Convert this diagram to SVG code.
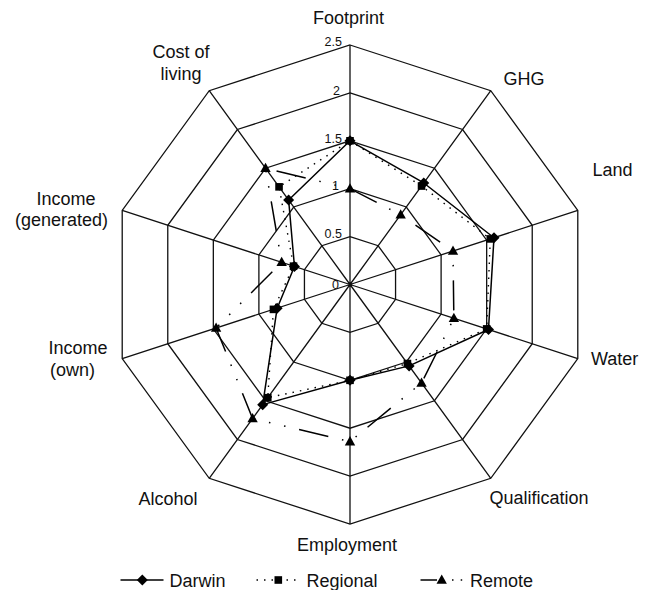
<svg xmlns="http://www.w3.org/2000/svg" xmlns:xlink="http://www.w3.org/1999/xlink" width="654" height="590" viewBox="0 0 654 590">
<style>
.grid{fill:none;stroke:#111;stroke-width:1.3}
.lbl{font-family:"Liberation Sans",Arial,sans-serif;font-size:18px;fill:#111}
.tick{font-family:"Liberation Sans",Arial,sans-serif;font-size:12.5px;fill:#111;text-anchor:end}
.darwin{fill:none;stroke:#000;stroke-width:1.5;stroke-linejoin:round}
.regional{fill:none;stroke:#000;stroke-width:1.4;stroke-dasharray:1.5 6}
.remote{fill:none;stroke:#000;stroke-width:1.5;stroke-dasharray:30 14 1.5 14 1.5 14}
</style>
<defs>
<path id="dia" d="M0,-5.5 L5.5,0 L0,5.5 L-5.5,0Z" fill="#000"/>
<rect id="sq" x="-3.8" y="-3.8" width="7.6" height="7.6" fill="#000"/>
<path id="tri" d="M0,-5.5 L5.2,3.8 L-5.2,3.8Z" fill="#000"/>
</defs>
<rect width="654" height="590" fill="#fff"/>
<g id="grid">
<polygon class="grid" points="350,236.6 378.16,245.75 395.56,269.7 395.56,299.3 378.16,323.25 350,332.4 321.84,323.25 304.44,299.3 304.44,269.7 321.84,245.75"/>
<polygon class="grid" points="350,188.7 406.31,207 441.11,254.9 441.11,314.1 406.31,362 350,380.3 293.69,362 258.89,314.1 258.89,254.9 293.69,207"/>
<polygon class="grid" points="350,140.8 434.47,168.25 486.67,240.1 486.67,328.9 434.47,400.75 350,428.2 265.53,400.75 213.33,328.9 213.33,240.1 265.53,168.25"/>
<polygon class="grid" points="350,92.9 462.62,129.5 532.23,225.3 532.23,343.7 462.62,439.5 350,476.1 237.38,439.5 167.77,343.7 167.77,225.3 237.38,129.5"/>
<polygon class="grid" points="350,45 490.78,90.74 577.79,210.49 577.79,358.51 490.78,478.26 350,524 209.22,478.26 122.21,358.51 122.21,210.49 209.22,90.74"/>
<path class="grid" d="M350,284.5L350,45M350,284.5L490.78,90.74M350,284.5L577.79,210.49M350,284.5L577.79,358.51M350,284.5L490.78,478.26M350,284.5L350,524M350,284.5L209.22,478.26M350,284.5L122.21,358.51M350,284.5L122.21,210.49M350,284.5L209.22,90.74"/>
</g>
<g id="ticks">
<text class="tick" x="342" y="45.5">2.5</text>
<text class="tick" x="340" y="95">2</text>
<text class="tick" x="342" y="142.5">1.5</text>
<text class="tick" x="339" y="190">1</text>
<text class="tick" x="342" y="238">0.5</text>
<text class="tick" x="339" y="288.5">0</text>
</g>
<g id="axis-labels">
<text class="lbl" x="313" y="24">Footprint</text>
<text class="lbl" x="503.5" y="85">GHG</text>
<text class="lbl" x="592.5" y="176">Land</text>
<text class="lbl" x="591" y="365">Water</text>
<text class="lbl" x="489.5" y="503.5">Qualification</text>
<text class="lbl" x="297" y="550.5">Employment</text>
<text class="lbl" x="138.5" y="505">Alcohol</text>
<text class="lbl" x="48.5" y="353.5">Income</text>
<text class="lbl" x="50" y="375.5">(own)</text>
<text class="lbl" x="36.5" y="205">Income</text>
<text class="lbl" x="15" y="226">(generated)</text>
<text class="lbl" x="181" y="58" text-anchor="middle">Cost of</text>
<text class="lbl" x="181" y="80" text-anchor="middle">living</text>
</g>
<g id="connectors">
<polygon id="remote-line" class="remote" points="350,188.7 400.67,214.76 453,251.04 453.86,318.24 421.53,382.96 350,441.6 252.6,418.55 216.09,328.01 281.66,262.3 265.53,168.25"/>
<polygon id="regional-line" class="regional" points="350,140.8 421.53,186.04 490.29,238.92 486.67,328.9 407.43,363.54 350,380.3 267.77,397.68 273.44,309.37 293.51,266.15 279.05,186.85"/>
<polygon id="darwin-line" class="darwin" points="350,140.8 423.77,182.97 493.99,237.72 488.48,329.49 409.13,365.89 350,380.3 262.71,404.64 277.15,308.17 294.46,266.45 288.63,200.04"/>
</g>
<g id="remote-markers">
<use xlink:href="#tri" x="350" y="188.7"/><use xlink:href="#tri" x="400.67" y="214.76"/><use xlink:href="#tri" x="453" y="251.04"/><use xlink:href="#tri" x="453.86" y="318.24"/><use xlink:href="#tri" x="421.53" y="382.96"/><use xlink:href="#tri" x="350" y="441.6"/><use xlink:href="#tri" x="252.6" y="418.55"/><use xlink:href="#tri" x="216.09" y="328.01"/><use xlink:href="#tri" x="281.66" y="262.3"/><use xlink:href="#tri" x="265.53" y="168.25"/>
</g>
<g id="regional-markers">
<use xlink:href="#sq" x="350" y="140.8"/><use xlink:href="#sq" x="421.53" y="186.04"/><use xlink:href="#sq" x="490.29" y="238.92"/><use xlink:href="#sq" x="486.67" y="328.9"/><use xlink:href="#sq" x="407.43" y="363.54"/><use xlink:href="#sq" x="350" y="380.3"/><use xlink:href="#sq" x="267.77" y="397.68"/><use xlink:href="#sq" x="273.44" y="309.37"/><use xlink:href="#sq" x="293.51" y="266.15"/><use xlink:href="#sq" x="279.05" y="186.85"/>
</g>
<g id="darwin-markers">
<use xlink:href="#dia" x="350" y="140.8"/><use xlink:href="#dia" x="423.77" y="182.97"/><use xlink:href="#dia" x="493.99" y="237.72"/><use xlink:href="#dia" x="488.48" y="329.49"/><use xlink:href="#dia" x="409.13" y="365.89"/><use xlink:href="#dia" x="350" y="380.3"/><use xlink:href="#dia" x="262.71" y="404.64"/><use xlink:href="#dia" x="277.15" y="308.17"/><use xlink:href="#dia" x="294.46" y="266.45"/><use xlink:href="#dia" x="288.63" y="200.04"/>
</g>
<g id="legend">
<g id="legend-darwin">
<line x1="120.5" y1="580" x2="163.5" y2="580" stroke="#000" stroke-width="1.5"/>
<use xlink:href="#dia" x="142.3" y="580"/>
<text class="lbl" x="169.5" y="587">Darwin</text>
</g>
<g id="legend-regional">
<line x1="256.5" y1="580" x2="300" y2="580" stroke="#000" stroke-width="1.4" stroke-dasharray="1.5 6"/>
<use xlink:href="#sq" x="278.3" y="580"/>
<text class="lbl" x="306.5" y="587">Regional</text>
</g>
<g id="legend-remote">
<line x1="420.5" y1="580" x2="437" y2="580" stroke="#000" stroke-width="1.5"/>
<use xlink:href="#tri" x="441.7" y="580"/>
<line x1="452" y1="580" x2="465" y2="580" stroke="#000" stroke-width="1.4" stroke-dasharray="1.5 7.2"/>
<text class="lbl" x="470" y="587">Remote</text>
</g>
</g>
</svg>
